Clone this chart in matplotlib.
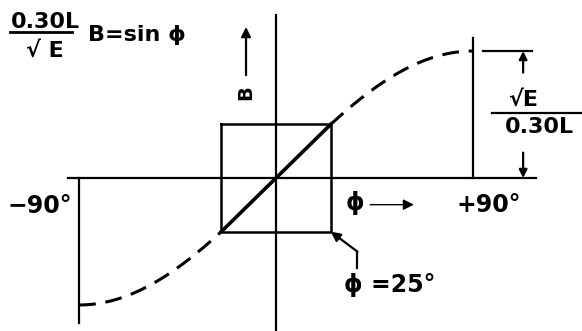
import matplotlib
matplotlib.use("Agg")
import matplotlib.pyplot as plt
import numpy as np

# angles in degrees, B = sin(phi)
phi_limits = [-90, 90]
phi_box = 25
phi_steps = np.arange(-90, 91, 1)

x_axis_span = [-95, 119]
y_axis_span = [1.28, -1.25]
edge_drop = [-1.14, 1.10]   # how far the +-90 verticals reach

FONT = dict(family="DejaVu Sans", fontweight="bold", color="black")


def sin_deg(a):
	return np.sin(np.radians(a))


fig = plt.figure(figsize=(5.82, 3.31), dpi=100)
ax = fig.add_axes([0, 0, 1, 1])
ax.set_xlim(-126.1, 139.8)
ax.set_ylim(-1.205, 1.402)
ax.axis("off")

# axes
ax.plot(x_axis_span, [0, 0], color="black", lw=1.6)
ax.plot([0, 0], y_axis_span, color="black", lw=1.6)

# verticals at -90 and +90
ax.plot([phi_limits[0]] * 2, [0, edge_drop[0]], color="black", lw=1.6)
ax.plot([phi_limits[1]] * 2, [0, edge_drop[1]], color="black", lw=1.6)

# sine curve, dashed outside the linear region
b = sin_deg(phi_steps)
lo = phi_steps <= -phi_box
hi = phi_steps >= phi_box
ax.plot(phi_steps[lo], b[lo], color="black", lw=2.2, ls=(0, (5.5, 3.2)))
ax.plot(phi_steps[hi], b[hi], color="black", lw=2.2, ls=(0, (5.5, 3.2)))

# linear part and its box
bb = sin_deg(phi_box)
ax.plot([-phi_box, phi_box], [-bb, bb], color="black", lw=2.6)
ax.plot([-phi_box, phi_box, phi_box, -phi_box, -phi_box],
		[bb, bb, -bb, -bb, bb], color="black", lw=1.8)

# B arrow and label
ax.annotate("", xy=(-13.7, 1.19), xytext=(-13.7, 0.81),
			arrowprops=dict(arrowstyle="-|>", color="black", lw=1.6,
							mutation_scale=14, shrinkA=0, shrinkB=0))
ax.text(-13.7, 0.67, "B", rotation=90, ha="center", va="center", fontsize=14, **FONT)

# phi arrow
ax.text(36, -0.2, "ϕ", ha="center", va="center", fontsize=17, **FONT)
ax.annotate("", xy=(63, -0.21), xytext=(43, -0.21),
			arrowprops=dict(arrowstyle="-|>", color="black", lw=1.0,
							mutation_scale=16, shrinkA=0, shrinkB=0))

# end labels
ax.text(-93, -0.22, "−90°", ha="right", va="center", fontsize=17, **FONT)
ax.text(97, -0.21, "+90°", ha="center", va="center", fontsize=17, **FONT)

# phi = 25 leader
ax.plot([37.2, 37.2], [-0.71, -0.58], color="black", lw=1.6)
ax.annotate("", xy=(phi_box, -bb), xytext=(37.2, -0.58),
			arrowprops=dict(arrowstyle="-|>", color="black", lw=1.6,
							mutation_scale=14, shrinkA=0, shrinkB=0))
ax.text(31, -0.84, "ϕ =25°", ha="left", va="center", fontsize=17, **FONT)

# dimension of the peak on the right
ax.plot([94.6, 117], [1, 1], color="black", lw=1.6)
ax.annotate("", xy=(112.9, 1.0), xytext=(112.9, 0.83),
			arrowprops=dict(arrowstyle="-|>", color="black", lw=1.6,
							mutation_scale=12, shrinkA=0, shrinkB=0))
ax.annotate("", xy=(112.9, 0.0), xytext=(112.9, 0.2),
			arrowprops=dict(arrowstyle="-|>", color="black", lw=1.6,
							mutation_scale=12, shrinkA=0, shrinkB=0))
ax.text(113, 0.62, "√E", ha="center", va="center", fontsize=16, **FONT)
ax.plot([98.7, 139.8], [0.51, 0.51], color="black", lw=1.6)
ax.text(120.5, 0.40, "0.30L", ha="center", va="center", fontsize=16, **FONT)

# formula in the corner
ax.text(-105.5, 1.23, "0.30L", ha="center", va="center", fontsize=16, **FONT)
ax.plot([-121.5, -93.2], [1.15, 1.15], color="black", lw=2.0)
ax.text(-105.5, 1.0, "√ E", ha="center", va="center", fontsize=16, **FONT)
ax.text(-86, 1.13, "B=sin ϕ", ha="left", va="center", fontsize=16, **FONT)

fig.savefig("out.png", dpi=100)
